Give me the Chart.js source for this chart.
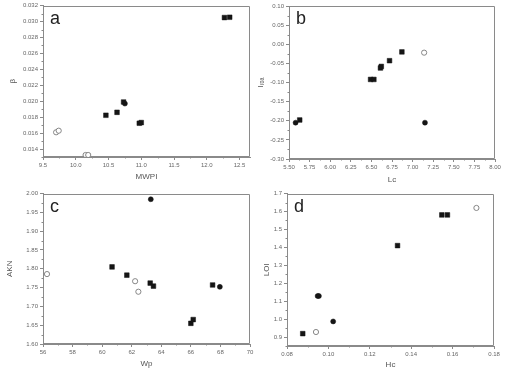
<!DOCTYPE html>
<html><head><meta charset="utf-8">
<script src="https://cdn.jsdelivr.net/npm/chart.js@4/dist/chart.umd.min.js"></script>
<style>
html,body{margin:0;padding:0;background:#fff;width:512px;height:376px;overflow:hidden}
canvas{position:absolute}
</style></head><body>
<canvas id="ca" width="256" height="188" style="left:0;top:0"></canvas>
<canvas id="cb" width="256" height="188" style="left:256px;top:0"></canvas>
<canvas id="cc" width="256" height="188" style="left:0;top:188px"></canvas>
<canvas id="cd" width="256" height="188" style="left:256px;top:188px"></canvas>
<script>
// ---- Panel a: beta vs MWPI ----
const aSquareX = [10.46, 10.63, 10.73, 10.97, 11.00, 12.27, 12.35];
const aSquareY = [0.01824, 0.01861, 0.0199, 0.01724, 0.01732, 0.03050, 0.03054];
const aCircleX = [10.75];
const aCircleY = [0.0197];
const aOpenX = [9.70, 9.74, 10.15, 10.19];
const aOpenY = [0.0161, 0.0163, 0.01325, 0.01325];
const aXTicks = [9.5, 10.0, 10.5, 11.0, 11.5, 12.0, 12.5];
const aYTicks = [0.014, 0.016, 0.018, 0.020, 0.022, 0.024, 0.026, 0.028, 0.030, 0.032];

// ---- Panel b: I vs Lc ----
const bSquareX = [5.63, 6.49, 6.53, 6.61, 6.62, 6.72, 6.87];
const bSquareY = [-0.198, -0.092, -0.092, -0.062, -0.058, -0.043, -0.020];
const bCircleX = [5.58, 7.15];
const bCircleY = [-0.205, -0.205];
const bOpenX = [7.14];
const bOpenY = [-0.022];
const bXTicks = [5.50, 5.75, 6.00, 6.25, 6.50, 6.75, 7.00, 7.25, 7.50, 7.75, 8.00];
const bYTicks = [-0.30, -0.25, -0.20, -0.15, -0.10, -0.05, 0.00, 0.05, 0.10];

// ---- Panel c: AKN vs Wp ----
const cSquareX = [60.67, 61.67, 63.25, 63.47, 66.00, 66.16, 67.47];
const cSquareY = [1.805, 1.783, 1.762, 1.754, 1.655, 1.665, 1.757];
const cCircleX = [63.29, 67.96];
const cCircleY = [1.985, 1.752];
const cOpenX = [56.27, 62.23, 62.45];
const cOpenY = [1.786, 1.767, 1.739];
const cXTicks = [56, 58, 60, 62, 64, 66, 68, 70];
const cYTicks = [1.60, 1.65, 1.70, 1.75, 1.80, 1.85, 1.90, 1.95, 2.00];

// ---- Panel d: LOI vs Hc ----
const dSquareX = [0.0876, 0.1334, 0.1548, 0.1575];
const dSquareY = [0.919, 1.410, 1.581, 1.581];
const dCircleX = [0.0948, 0.0954, 0.1023];
const dCircleY = [1.129, 1.129, 0.987];
const dOpenX = [0.0940, 0.1715];
const dOpenY = [0.928, 1.620];
const dXTicks = [0.08, 0.10, 0.12, 0.14, 0.16, 0.18];
const dYTicks = [0.9, 1.0, 1.1, 1.2, 1.3, 1.4, 1.5, 1.6, 1.7];

const GRAY = '#8a8a8a';
const LABEL = '#666';
const FONT = '"Liberation Sans", Arial, sans-serif';

const pts = (xs, ys) => xs.map((x, i) => ({x, y: ys[i]}));

const framePlugin = {
  id: 'frame',
  beforeDatasetsDraw(chart, args, opts) {
    const {ctx, chartArea: a} = chart;
    ctx.save();
    ctx.strokeStyle = GRAY; ctx.lineWidth = 1;
    const L = Math.round(a.left) + 0.5, T = Math.round(a.top) + 0.5;
    const R = Math.round(a.right) - 0.5, B = Math.round(a.bottom) - 0.5;
    ctx.beginPath();
    ctx.moveTo(L, B); ctx.lineTo(L, T); ctx.lineTo(R, T); ctx.lineTo(R, B); ctx.lineTo(L, B);
    ctx.stroke();
    // minor ticks
    ctx.beginPath();
    for (const id of ['x', 'y']) {
      const s = chart.scales[id];
      const t = s.ticks.map(k => k.value);
      const step = t[1] - t[0];
      for (let v = t[0] - step / 2; v <= s.max + 1e-9; v += step) {
        if (v < s.min - 1e-9) continue;
        const p = Math.round(s.getPixelForValue(v)) + 0.5;
        if (id === 'x') { ctx.moveTo(p, B); ctx.lineTo(p, B + 2); }
        else { ctx.moveTo(L, p); ctx.lineTo(L - 2, p); }
      }
    }
    ctx.stroke();
    // panel letter
    ctx.font = '18px ' + FONT;
    ctx.fillStyle = '#222';
    ctx.textBaseline = 'alphabetic';
    ctx.fillText(opts.letter, a.left + 7, a.top + 18);
    ctx.restore();
  }
};

function makeChart(id, p) {
  const datasets = [
    {data: pts(p.sx, p.sy), pointStyle: 'rect', pointRadius: 3.3, backgroundColor: '#151515', borderColor: '#151515', borderWidth: 0.5},
    {data: pts(p.cx, p.cy), pointStyle: 'circle', pointRadius: 2.5, backgroundColor: '#151515', borderColor: '#151515', borderWidth: 0.5},
    {data: pts(p.ox, p.oy), pointStyle: 'circle', pointRadius: 2.6, backgroundColor: '#fff', borderColor: '#7a7a7a', borderWidth: 0.9}
  ];
  const axisCommon = (ticks, dec) => ({
    type: 'linear',
    afterBuildTicks: s => { s.ticks = ticks.map(v => ({value: v})); },
    ticks: {font: {size: 6, family: FONT}, color: LABEL, padding: 2, maxRotation: 0, autoSkip: false,
            callback: v => Number(v).toFixed(dec)},
    grid: {drawOnChartArea: false, drawTicks: true, tickLength: 3, color: GRAY, tickColor: GRAY},
    border: {display: true, color: GRAY, width: 1}
  });
  const x = Object.assign(axisCommon(p.xt, p.xd), {
    position: 'bottom', min: p.xmin, max: p.xmax,
    afterFit: s => { s.height = p.xh; },
    title: {display: true, text: p.xl, color: '#555', font: {size: 8, family: FONT}, padding: {top: 0, bottom: p.xtp}}
  });
  const y = Object.assign(axisCommon(p.yt, p.yd), {
    position: 'left', min: p.ymin, max: p.ymax,
    afterFit: s => { s.width = p.yw; },
    title: {display: true, text: p.yl, color: '#555', font: {size: 8, family: FONT}, padding: {top: p.ytp, bottom: 0}}
  });
  return new Chart(document.getElementById(id), {
    type: 'scatter',
    data: {datasets},
    options: {
      responsive: false, animation: false, devicePixelRatio: 1,
      layout: {padding: {left: 0, top: p.pt, right: p.pr, bottom: 0}},
      plugins: {legend: {display: false}, tooltip: {enabled: false}, frame: {letter: p.letter}},
      scales: {x, y}
    },
    plugins: [framePlugin]
  });
}

makeChart('ca', {sx: aSquareX, sy: aSquareY, cx: aCircleX, cy: aCircleY, ox: aOpenX, oy: aOpenY,
  xt: aXTicks, yt: aYTicks, xd: 1, yd: 3, xmin: 9.5, xmax: 12.66, ymin: 0.013, ymax: 0.032,
  xl: 'MWPI', yl: 'β', letter: 'a', xh: 31, yw: 43, pt: 5, pr: 6, xtp: 6, ytp: 8});
makeChart('cb', {sx: bSquareX, sy: bSquareY, cx: bCircleX, cy: bCircleY, ox: bOpenX, oy: bOpenY,
  xt: bXTicks, yt: bYTicks, xd: 2, yd: 2, xmin: 5.5, xmax: 8.0, ymin: -0.30, ymax: 0.10,
  xl: 'Lc', yl: 'Iᵣₒₐ', letter: 'b', xh: 29, yw: 33, pt: 6, pr: 17, xtp: 3, ytp: 0});
makeChart('cc', {sx: cSquareX, sy: cSquareY, cx: cCircleX, cy: cCircleY, ox: cOpenX, oy: cOpenY,
  xt: cXTicks, yt: cYTicks, xd: 0, yd: 2, xmin: 56, xmax: 70, ymin: 1.60, ymax: 2.00,
  xl: 'Wp', yl: 'AKN', letter: 'c', xh: 32, yw: 43, pt: 3, pr: 6, xtp: 7, ytp: 5});
makeChart('cd', {sx: dSquareX, sy: dSquareY, cx: dCircleX, cy: dCircleY, ox: dOpenX, oy: dOpenY,
  xt: dXTicks, yt: dYTicks, xd: 2, yd: 1, xmin: 0.08, xmax: 0.18, ymin: 0.85, ymax: 1.70,
  xl: 'Hc', yl: 'LOI', letter: 'd', xh: 30, yw: 31, pt: 5, pr: 18, xtp: 6, ytp: 6});
</script>
</body></html>
